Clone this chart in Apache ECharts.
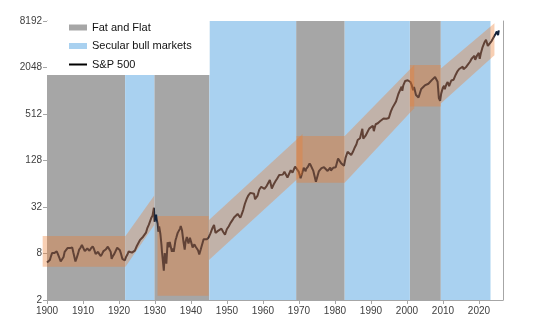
<!DOCTYPE html>
<html><head><meta charset="utf-8">
<script src="https://cdn.jsdelivr.net/npm/echarts@6/dist/echarts.min.js"></script>
<style>html,body{margin:0;padding:0;background:#fff}#c{width:557px;height:331px}</style>
</head><body><div id="c"></div>
<script>
// ---- tick labels ----
const xTickYears = [1900, 1910, 1920, 1930, 1940, 1950, 1960, 1970, 1980, 1990, 2000, 2010, 2020];
const yTickValues = [2, 8, 32, 128, 512, 2048, 8192];

// ---- regime periods (years) ----
const fatFlatStart = [1900, 1929.8, 1969.2, 2000.8];
const fatFlatEnd   = [1921.7, 1945.1, 1982.7, 2009.4];
const bullStart    = [1921.7, 1945.1, 1982.7, 2009.4];
const bullEnd      = [1929.8, 1969.2, 2000.8, 2023.2];

// ---- trading channels: start/end year, low/high at start, low/high at end ----
const chStart   = [1898.8, 1921.8, 1930.7, 1945.0, 1969.3, 1982.7, 2000.8, 2009.4];
const chEnd     = [1921.8, 1929.8, 1944.9, 1971.0, 1982.7, 2002.0, 2009.4, 2024.3];
const chLoStart = [5.4, 5.4, 2.27, 6.6, 66, 66, 640, 700];
const chHiStart = [13.5, 13.5, 24.5, 21.7, 265, 265, 2200, 1986];
const chLoEnd   = [5.4, 18.7, 2.27, 85, 66, 610, 640, 2946];
const chHiEnd   = [13.5, 45, 24.5, 281, 265, 2200, 2200, 7650];

// ---- S&P 500 (year, index level) ----
const sp500 = [
[1900.0,6.1],[1900.4,5.8],[1900.8,6.6],[1901.0,7.1],[1901.4,8.1],[1901.7,7.8],[1902.0,8.1],[1902.7,8.5],
[1903.0,7.9],[1903.5,6.9],[1903.8,6.3],[1904.2,6.4],[1904.6,7.2],[1904.9,8.4],[1905.3,8.9],[1905.7,9.4],
[1906.0,9.9],[1906.4,9.4],[1906.8,9.3],[1907.0,9.6],[1907.3,8.3],[1907.6,8.0],[1907.9,6.3],[1908.2,6.9],
[1908.6,7.9],[1908.9,8.9],[1909.3,9.5],[1909.7,10.3],[1910.0,10.1],[1910.5,8.6],[1910.9,9.0],[1911.2,9.3],
[1911.6,9.5],[1911.8,8.7],[1912.2,9.3],[1912.7,9.9],[1913.0,9.3],[1913.5,7.9],[1913.9,8.3],[1914.2,8.4],
[1914.5,7.9],[1914.95,7.4],[1915.3,7.9],[1915.7,8.6],[1915.95,9.1],[1916.3,9.0],[1916.6,8.9],[1916.9,9.8],
[1917.3,9.1],[1917.7,8.4],[1917.95,6.8],[1918.3,7.4],[1918.7,7.9],[1919.0,7.9],[1919.5,9.5],[1919.8,9.3],
[1920.2,8.9],[1920.5,8.1],[1920.95,6.8],[1921.3,7.1],[1921.6,6.5],[1921.95,7.2],[1922.3,7.7],[1922.7,8.5],
[1923.2,8.9],[1923.6,8.2],[1923.95,8.6],[1924.4,8.7],[1924.95,10.0],[1925.3,10.5],[1925.8,11.9],[1926.0,12.6],
[1926.3,11.8],[1926.7,13.2],[1927.0,13.4],[1927.5,14.9],[1927.9,17.2],[1928.3,18.9],[1928.5,19.3],[1928.95,23.0],
[1929.3,24.6],[1929.7,31.3],[1929.85,20.6],[1929.95,21.4],[1930.3,25.5],[1930.5,21.8],[1930.75,19.5],[1930.95,15.3],
[1931.15,17.9],[1931.5,14.3],[1931.8,10.3],[1931.95,8.3],[1932.2,8.2],[1932.45,4.8],[1932.7,8.1],[1932.95,6.9],
[1933.15,5.9],[1933.5,11.2],[1933.8,9.6],[1934.1,11.3],[1934.7,8.4],[1934.95,9.3],[1935.2,8.4],[1935.7,11.9],
[1935.95,13.0],[1936.3,14.8],[1936.95,16.8],[1937.15,18.1],[1937.5,16.0],[1937.95,11.0],[1938.25,9.0],[1938.5,11.4],
[1938.85,13.1],[1939.3,10.8],[1939.7,12.8],[1940.0,12.3],[1940.45,9.6],[1940.95,10.5],[1941.3,9.8],[1941.6,10.4],
[1941.95,8.8],[1942.3,7.8],[1942.7,9.0],[1942.95,9.5],[1943.5,12.2],[1943.9,11.5],[1944.4,12.2],[1944.95,13.0],
[1945.4,14.6],[1945.95,17.0],[1946.4,18.7],[1946.8,14.8],[1947.3,15.0],[1947.5,15.7],[1947.95,15.0],[1948.45,16.8],
[1948.95,15.2],[1949.45,14.0],[1949.95,16.5],[1950.5,18.0],[1950.95,19.8],[1951.5,21.6],[1951.95,23.4],[1952.5,24.7],
[1952.95,26.0],[1953.7,23.3],[1953.95,24.8],[1954.5,29.2],[1954.95,35.0],[1955.5,41.0],[1955.95,45.4],[1956.5,48.8],
[1956.95,46.2],[1957.5,47.5],[1957.8,40.3],[1958.5,45.0],[1958.95,53.5],[1959.5,58.5],[1959.95,59.1],[1960.4,55.0],
[1960.8,53.7],[1961.0,59.7],[1961.9,71.7],[1962.45,55.6],[1962.95,62.6],[1963.5,69.5],[1963.95,75.0],[1964.5,83.0],
[1964.95,84.8],[1965.5,84.0],[1965.95,91.7],[1966.1,93.3],[1966.8,77.1],[1966.95,81.3],[1967.7,95.7],[1967.95,95.3],
[1968.2,89.1],[1968.9,106.5],[1969.4,99.5],[1969.95,91.1],[1970.45,75.6],[1970.95,90.0],[1971.3,103.0],[1971.85,92.8],
[1971.95,99.2],[1972.5,107.0],[1972.95,117.5],[1973.3,110.0],[1973.6,104.0],[1973.95,94.8],[1974.3,92.0],[1974.7,68.1],
[1974.95,67.1],[1975.5,92.5],[1975.95,88.7],[1976.25,102.0],[1976.75,104.2],[1976.95,104.7],[1977.5,99.5],[1977.95,93.8],
[1978.2,88.8],[1978.7,103.9],[1978.85,94.7],[1979.5,103.0],[1979.95,107.8],[1980.2,104.7],[1980.85,135.7],[1981.2,133.0],
[1981.7,118.3],[1981.95,123.8],[1982.5,109.4],[1982.95,139.4],[1983.5,166.0],[1983.95,166.4],[1984.5,151.0],[1984.95,164.5],
[1985.5,189.0],[1985.95,207.3],[1986.3,236.0],[1986.7,240.0],[1986.95,248.6],[1987.6,329.4],[1987.85,245.0],[1987.95,241.0],
[1988.5,268.0],[1988.95,276.5],[1989.5,331.0],[1989.7,347.0],[1989.95,348.6],[1990.5,360.0],[1990.8,307.0],[1990.95,328.8],
[1991.3,377.0],[1991.9,388.5],[1992.5,412.0],[1992.95,435.7],[1993.5,448.0],[1993.95,466.0],[1994.3,445.0],[1994.95,455.0],
[1995.5,550.0],[1995.95,614.6],[1996.5,650.0],[1996.95,743.3],[1997.3,760.0],[1997.6,930.0],[1997.95,963.4],[1998.5,1156],
[1998.7,1021],[1998.95,1190],[1999.5,1370],[1999.8,1300],[1999.95,1428],[2000.2,1400],[2000.6,1485],[2000.95,1330],
[2001.3,1220],[2001.7,1040],[2001.95,1144],[2002.5,903],[2002.8,854],[2002.95,899],[2003.2,837],[2003.95,1080],
[2004.5,1120],[2004.95,1199],[2005.5,1220],[2005.95,1262],[2006.5,1270],[2006.95,1416],[2007.5,1500],[2007.8,1540],
[2007.95,1479],[2008.5,1341],[2008.85,825],[2009.2,757],[2009.5,940],[2009.95,1116],[2010.3,1190],[2010.5,1069],
[2010.95,1241],[2011.3,1331],[2011.7,1175],[2011.95,1243],[2012.3,1390],[2012.5,1320],[2012.95,1422],[2013.5,1640],
[2013.95,1807],[2014.5,1960],[2014.95,2055],[2015.5,2100],[2015.7,1944],[2015.95,2054],[2016.1,1904],[2016.5,2100],
[2016.95,2247],[2017.5,2430],[2017.95,2664],[2018.1,2790],[2018.5,2760],[2018.75,2900],[2018.95,2567],[2019.5,2950],
[2019.95,3177],[2020.2,2652],[2020.5,3100],[2020.95,3695],[2021.5,4300],[2021.95,4675],[2022.45,3900],[2022.7,3850],
[2022.95,3912],[2023.5,4508],[2023.8,4270],[2023.95,4685],[2024.5,5460],[2024.95,5975],[2025.1,6000],[2025.3,5370],
[2025.5,6200]
];

const Y_MIN = 2, Y_MAX = 8192;
const FONT = 'Liberation Sans, Arial, sans-serif';

const fatFlatData = fatFlatStart.map((s, i) => [s, fatFlatEnd[i], Y_MIN, Y_MAX]);
const bullData = bullStart.map((s, i) => [s, bullEnd[i], Y_MIN, Y_MAX]);
const channelData = chStart.map((s, i) => [s, chEnd[i], chLoStart[i], chHiStart[i], chLoEnd[i], chHiEnd[i]]);

function renderPeriod(params, api) {
  const p0 = api.coord([api.value(0), api.value(3)]);
  const p1 = api.coord([api.value(1), api.value(2)]);
  return { type: 'rect', shape: { x: p0[0], y: p0[1], width: p1[0] - p0[0], height: p1[1] - p0[1] },
           style: { fill: api.visual('color') } };
}
function renderChannel(params, api) {
  const pts = [
    api.coord([api.value(0), api.value(2)]),
    api.coord([api.value(0), api.value(3)]),
    api.coord([api.value(1), api.value(5)]),
    api.coord([api.value(1), api.value(4)])
  ];
  return { type: 'polygon', shape: { points: pts }, style: { fill: api.visual('color') } };
}

const chart = echarts.init(document.getElementById('c'), null, { renderer: 'canvas' });
chart.setOption({
  animation: false,
  grid: { left: 47, right: 54, top: 21, bottom: 31, containLabel: false },
  legend: {
    left: 47, top: 21, orient: 'vertical',
    backgroundColor: '#fff',
    padding: [0, 18, 4, 21],
    itemWidth: 18, itemHeight: 6, itemGap: 5.5,
    textStyle: { fontFamily: FONT, fontSize: 11, color: '#111', lineHeight: 13 },
    selectedMode: false,
    data: [
      { name: 'Fat and Flat', icon: 'rect' },
      { name: 'Secular bull markets', icon: 'rect' },
      { name: 'S&P 500', itemStyle: { color: '#000', opacity: 0 }, lineStyle: { color: '#000', width: 2, opacity: 1 } }
    ]
  },
  xAxis: {
    type: 'value', min: 1900, max: 2026.67, interval: 10,
    axisLine: { lineStyle: { color: '#A6A6A6' } },
    axisTick: { show: true, length: 4, lineStyle: { color: '#A6A6A6' } },
    splitLine: { show: false },
    axisLabel: {
      fontFamily: FONT, fontSize: 10, color: '#404040', margin: 6, showMaxLabel: false,
      formatter: v => xTickYears.includes(Math.round(v)) && Math.abs(v - Math.round(v)) < 1e-6 ? String(Math.round(v)) : ''
    }
  },
  yAxis: [{
    type: 'log', logBase: 2, min: Y_MIN, max: Y_MAX, interval: 2,
    axisLine: { show: true, lineStyle: { color: '#A6A6A6' } },
    axisTick: { show: true, length: 4, lineStyle: { color: '#A6A6A6' } },
    splitLine: { show: false },
    axisLabel: {
      fontFamily: FONT, fontSize: 10, color: '#404040', margin: 5,
      formatter: v => { const r = Math.round(v); return yTickValues.includes(r) ? String(r) : ''; }
    }
  }, {
    type: 'log', logBase: 2, min: Y_MIN, max: Y_MAX, position: 'right',
    axisLine: { show: true, lineStyle: { color: '#A6A6A6' } },
    axisTick: { show: false }, axisLabel: { show: false }, splitLine: { show: false }
  }],
  series: [
    { name: 'Fat and Flat', type: 'custom', renderItem: renderPeriod, data: fatFlatData,
      encode: { x: [0, 1], y: [2, 3] }, itemStyle: { color: '#A6A6A6' }, z: 1, silent: true },
    { name: 'Secular bull markets', type: 'custom', renderItem: renderPeriod, data: bullData,
      encode: { x: [0, 1], y: [2, 3] }, itemStyle: { color: '#A9D1F0' }, z: 1, silent: true },
    { name: 'S&P 500', type: 'line', data: sp500, symbol: 'none', showSymbol: false,
      lineStyle: { color: '#10213A', width: 2 }, itemStyle: { color: '#10213A' }, z: 2, silent: true },
    { name: 'Channel', type: 'custom', renderItem: renderChannel, data: channelData,
      encode: { x: [0, 1], y: [2, 3, 4, 5] }, itemStyle: { color: 'rgba(237,125,49,0.37)' }, z: 3, silent: true, clip: false }
  ]
});
</script>
</body></html>
